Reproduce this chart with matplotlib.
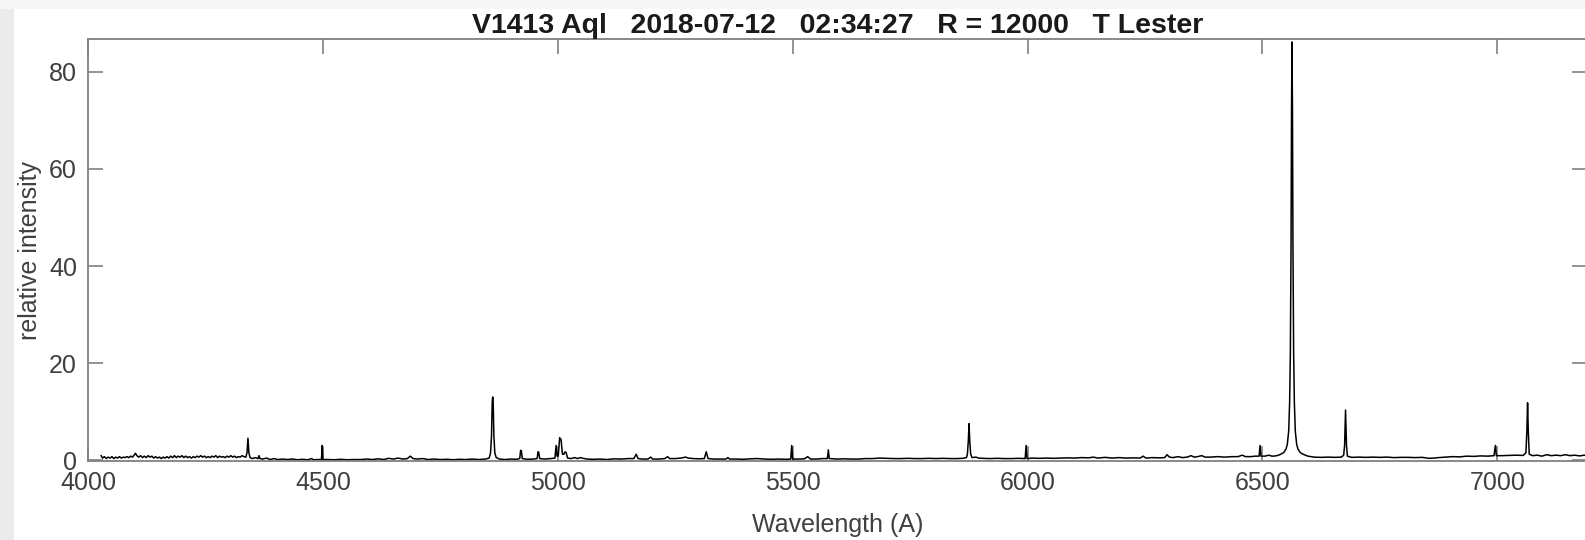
import matplotlib
matplotlib.use("Agg")
import matplotlib.pyplot as plt
from matplotlib.patches import Rectangle

# spectrum samples (wavelength in A, relative intensity)
wavelength = [
    4028, 4031, 4035, 4039, 4043, 4047, 4051, 4055, 4059, 4063, 4067, 4071, 4075, 4079,
    4083, 4087, 4091, 4095, 4098, 4101, 4104, 4108, 4112, 4116, 4120, 4124, 4128, 4132,
    4136, 4140, 4144, 4148, 4152, 4156, 4160, 4164, 4168, 4172, 4176, 4180, 4184, 4188,
    4192, 4196, 4200, 4204, 4208, 4212, 4216, 4220, 4224, 4228, 4232, 4236, 4240, 4244,
    4248, 4252, 4256, 4260, 4264, 4268, 4272, 4276, 4280, 4284, 4288, 4292, 4296, 4300,
    4304, 4308, 4312, 4316, 4320, 4324, 4328, 4332, 4336, 4338.5, 4340.5, 4342.5, 4345,
    4350, 4356, 4362, 4364, 4366, 4372, 4380, 4388, 4396, 4404, 4414, 4424, 4436, 4446,
    4456, 4468, 4476, 4480, 4490, 4497, 4498.5, 4500, 4510, 4524, 4538, 4552, 4566, 4580,
    4594, 4606, 4618, 4630, 4640, 4650, 4660, 4670, 4680, 4686, 4692, 4700, 4712, 4724,
    4736, 4750, 4764, 4778, 4790, 4804, 4818, 4832, 4846, 4854,
    4857, 4859, 4860.5, 4861.5, 4862.5, 4864, 4866, 4869,
    4876, 4888, 4900, 4912, 4919, 4921, 4922.5, 4924.5, 4935, 4948, 4956, 4958, 4959.5,
    4961.5, 4972, 4985, 4994, 4996.5, 4998.5, 5001, 5004, 5007, 5010, 5013, 5015.5, 5018,
    5021, 5028, 5036, 5042, 5048, 5054, 5062, 5075, 5090, 5105, 5120, 5135, 5150, 5162,
    5167, 5171, 5180, 5192, 5198, 5202, 5215, 5228, 5234, 5238, 5250, 5262, 5272, 5278,
    5288, 5300, 5312, 5316, 5320, 5332, 5345, 5358, 5362, 5366, 5380, 5395, 5410, 5425,
    5440, 5455, 5470, 5485, 5496, 5498, 5500, 5512, 5525, 5532, 5538, 5550, 5565, 5574,
    5576, 5578, 5595, 5610, 5625, 5640, 5655, 5670, 5685, 5700, 5715, 5730, 5745, 5760,
    5775, 5790, 5805, 5820, 5835, 5850, 5862, 5870,
    5872, 5874, 5875.5, 5877, 5879, 5882,
    5890, 5896, 5905, 5920, 5935, 5950, 5965, 5980, 5995, 5997, 5999, 6010, 6025, 6040,
    6055, 6070, 6085, 6100, 6115, 6130, 6140, 6150, 6165, 6180, 6195, 6210, 6225, 6240,
    6246, 6252, 6265, 6280, 6292, 6297, 6302, 6310, 6320, 6330, 6340, 6348, 6355, 6362,
    6371, 6378, 6390, 6405, 6420, 6435, 6448, 6457, 6464, 6475, 6485, 6493, 6495, 6497,
    6505, 6514, 6520,
    6523, 6531, 6537, 6545, 6550, 6553, 6556, 6558, 6559.5, 6561, 6562, 6563, 6564, 6565,
    6566.5, 6568, 6570, 6573, 6576, 6581, 6589, 6597,
    6610, 6625, 6640, 6655, 6668, 6673, 6675, 6677, 6679, 6681, 6690, 6705, 6720, 6735,
    6750, 6765, 6780, 6795, 6810, 6825, 6840, 6855, 6865, 6875, 6890, 6905, 6920, 6935,
    6950, 6965, 6980, 6993, 6996, 6998, 7010, 7025, 7040, 7055, 7061, 7063, 7064.5, 7066,
    7068, 7075, 7085, 7095, 7105, 7115, 7125, 7135, 7145, 7155, 7165, 7175, 7185, 7195,
]
intensity = [
    0.9, 0.4, 0.7, 0.3, 0.6, 0.4, 0.7, 0.3, 0.6, 0.4, 0.7, 0.4, 0.6, 0.5,
    0.7, 0.5, 0.8, 0.6, 1.0, 1.4, 0.9, 0.6, 0.9, 0.5, 0.8, 0.5, 0.9, 0.6,
    0.8, 0.4, 0.7, 0.4, 0.6, 0.3, 0.6, 0.4, 0.7, 0.4, 0.8, 0.5, 0.9, 0.5,
    0.8, 0.6, 0.9, 0.5, 0.8, 0.5, 0.7, 0.4, 0.7, 0.5, 0.8, 0.6, 0.9, 0.6,
    0.8, 0.5, 0.7, 0.5, 0.8, 0.6, 0.9, 0.5, 0.8, 0.6, 0.7, 0.5, 0.8, 0.6,
    0.9, 0.6, 0.8, 0.5, 0.7, 0.6, 0.9, 0.7, 0.6, 1.5, 4.5, 1.5, 0.5,
    0.3, 0.5, 0.3, 0.9, 0.3, 0.2, 0.4, 0.1, 0.3, 0.1, 0.2, 0.1, 0.2, 0.05,
    0.15, 0.05, 0.3, 0.05, 0.1, 0.1, 3.0, 0.1, 0.1, 0.05, 0.15, 0.05, 0.1, 0.1,
    0.2, 0.1, 0.25, 0.1, 0.35, 0.2, 0.4, 0.2, 0.3, 0.8, 0.3, 0.2, 0.3, 0.1,
    0.2, 0.1, 0.15, 0.05, 0.15, 0.1, 0.2, 0.1, 0.2, 0.4,
    1.5, 5.0, 12.0, 13.0, 12.0, 5.0, 1.5, 0.5,
    0.2, 0.1, 0.2, 0.15, 0.3, 2.0, 1.9, 0.3, 0.15, 0.2, 0.3, 1.7, 1.6,
    0.3, 0.2, 0.3, 0.4, 3.0, 0.8, 0.8, 4.6, 4.2, 1.2, 1.2, 1.7, 1.5,
    0.4, 0.3, 0.5, 0.3, 0.5, 0.35, 0.2, 0.15, 0.2, 0.1, 0.25, 0.2, 0.3, 0.3,
    1.2, 0.3, 0.2, 0.2, 0.6, 0.2, 0.2, 0.3, 0.7, 0.3, 0.3, 0.4, 0.6, 0.4,
    0.3, 0.25, 0.3, 1.7, 0.3, 0.2, 0.2, 0.2, 0.5, 0.2, 0.2, 0.15, 0.25, 0.3,
    0.2, 0.15, 0.2, 0.15, 0.2, 3.0, 0.2, 0.2, 0.25, 0.7, 0.2, 0.2, 0.3, 0.3,
    2.1, 0.3, 0.2, 0.25, 0.2, 0.2, 0.3, 0.3, 0.4, 0.35, 0.3, 0.3, 0.35, 0.3,
    0.3, 0.35, 0.3, 0.35, 0.3, 0.3, 0.35, 0.5,
    1.2, 4.0, 7.5, 4.0, 1.2, 0.5,
    0.6, 0.4, 0.35, 0.3, 0.35, 0.3, 0.3, 0.35, 0.3, 3.0, 0.3, 0.4, 0.35, 0.4,
    0.35, 0.4, 0.45, 0.4, 0.5, 0.45, 0.6, 0.4, 0.55, 0.4, 0.5, 0.4, 0.45, 0.4,
    0.8, 0.4, 0.5, 0.45, 0.5, 1.1, 0.6, 0.5, 0.7, 0.5, 0.6, 0.9, 0.6, 0.7,
    0.9, 0.6, 0.6, 0.7, 0.6, 0.7, 0.7, 1.0, 0.7, 0.7, 0.8, 0.8, 3.0, 0.8,
    0.8, 1.0, 0.8,
    0.8, 0.9, 1.1, 1.5, 2.2, 3.2, 6.0, 12.0, 22.0, 45.0, 72.0, 86.2, 72.0, 45.0,
    22.0, 12.0, 6.0, 3.2, 2.2, 1.5, 1.1, 0.8,
    0.6, 0.55, 0.6, 0.55, 0.6, 1.0, 3.0, 10.3, 3.0, 0.8, 0.55, 0.6, 0.55, 0.6,
    0.55, 0.6, 0.5, 0.55, 0.55, 0.5, 0.55, 0.35, 0.4, 0.5, 0.6, 0.7, 0.65, 0.8,
    0.75, 0.85, 0.8, 0.9, 3.0, 0.9, 0.9, 0.95, 1.0, 0.95, 1.5, 6.0, 11.8, 6.0,
    1.2, 0.9, 1.0, 0.8, 1.1, 0.9, 1.0, 0.9, 1.1, 0.9, 1.0, 0.85, 1.0, 0.9,
]

x_ticks = [4000, 4500, 5000, 5500, 6000, 6500, 7000]
y_ticks = [0, 20, 40, 60, 80]
title = "V1413 Aql   2018-07-12   02:34:27   R = 12000   T Lester"

W, H = 1585, 540
fig = plt.figure(figsize=(W / 100, H / 100), dpi=100)
fig.patch.set_facecolor("white")

# grey frame strips along the left and top edge
fig.patches.append(Rectangle((0, 0), 14 / W, 1, transform=fig.transFigure,
                             facecolor="#ebebeb", edgecolor="none", zorder=0))
fig.patches.append(Rectangle((0, 1 - 9 / H), 1, 9 / H, transform=fig.transFigure,
                             facecolor="#f6f6f6", edgecolor="none", zorder=0))

ax = fig.add_axes([88 / W, 79 / H, 1499 / W, 422 / H])
ax.plot(wavelength, intensity, color="black", linewidth=1.1)
ax.set_xlim(4000, 7191)
ax.set_ylim(-0.2, 86.8)

text_color = "#404040"
font = ["Liberation Sans", "DejaVu Sans"]

ax.set_xticks(x_ticks)
ax.set_yticks(y_ticks)
ax.tick_params(direction="in", length=11, width=1.2, color="#808080",
               top=True, right=True, labelsize=18, labelcolor=text_color)
ax.tick_params(axis="y", pad=8)
ax.tick_params(axis="x", pad=7.5)
for lbl in ax.get_xticklabels() + ax.get_yticklabels():
    lbl.set_family(font)
for s in ax.spines.values():
    s.set_color("#808080")
    s.set_linewidth(1.3)

ax.set_xlabel("Wavelength (A)", fontsize=18, color=text_color, family=font, labelpad=13)
ax.set_ylabel("relative intensity", fontsize=18, color=text_color, family=font, labelpad=5)
ax.set_title(title, fontsize=20.5, fontweight="bold", color="#1a1a1a",
             family=["Liberation Sans Narrow", "Liberation Sans", "DejaVu Sans"], pad=4)

fig.savefig("out.png", dpi=100)
